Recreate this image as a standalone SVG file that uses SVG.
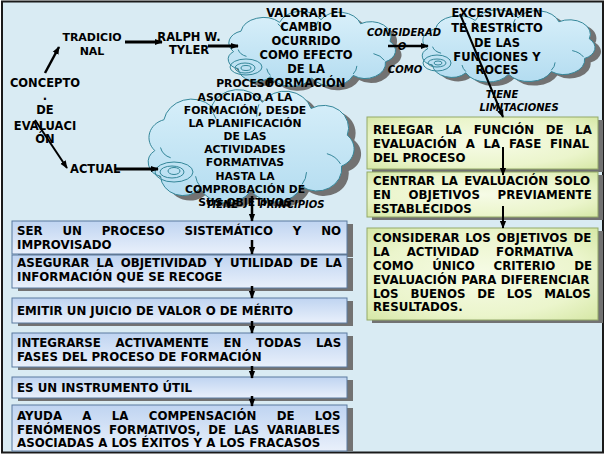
<svg xmlns="http://www.w3.org/2000/svg" width="608" height="455" viewBox="0 0 608 455">
<defs>
<style>
.t{font-family:'DejaVu Sans',Verdana,sans-serif;font-weight:bold;fill:#000}
.bx{font-size:11.8px}
.c{text-anchor:middle}
.it{font-style:italic;font-size:10px;text-anchor:middle}
.cn{stroke:#000;fill:none;marker-end:url(#ah)}
.cs{fill:none;stroke:#35879a;stroke-width:1}
.lb{fill:url(#gBlue);stroke:#5b7aa0;stroke-width:1}
.rb{fill:url(#gGreen);stroke:#93a968;stroke-width:1}
.sh{fill:#727272}
</style>
<linearGradient id="gBlue" x1="0" y1="0" x2="0" y2="1"><stop offset="0" stop-color="#bfd4f1"/><stop offset="1" stop-color="#e9f0fb"/></linearGradient>
<radialGradient id="gGreen" cx="0.5" cy="0.5" r="0.75"><stop offset="0" stop-color="#f6fbe6"/><stop offset="0.6" stop-color="#ebf5cc"/><stop offset="1" stop-color="#d2e59f"/></radialGradient>
<linearGradient id="gCloud" x1="0" y1="0" x2="0" y2="1"><stop offset="0" stop-color="#d9f0fa"/><stop offset="1" stop-color="#b3dcf0"/></linearGradient>
<path id="cloud" vector-effect="non-scaling-stroke" d="M20,55 A18,18 0 0 1 28,25 A25,25 0 0 1 70,12 A25,25 0 0 1 115,8 A24,24 0 0 1 158,14 A22,22 0 0 1 190,40 A18,18 0 0 1 185,70 A22,22 0 0 1 150,90 A26,26 0 0 1 105,94 A26,26 0 0 1 60,92 A20,20 0 0 1 25,80 A14,14 0 0 1 20,55 Z"/>
<path id="cloudIn" vector-effect="non-scaling-stroke" d="M25,52 A14,14 0 0 0 34,62 M60,90 A22,22 0 0 1 56,80 M150,88 A22,22 0 0 0 154,76 M184,68 A20,20 0 0 0 172,58 M112,10 A25,25 0 0 0 110,22 M68,14 A24,24 0 0 1 74,24"/>
<marker id="ah" viewBox="0 0 10 10" refX="9" refY="5" markerWidth="8" markerHeight="8" markerUnits="userSpaceOnUse" orient="auto"><path d="M0,1 L10,5 L0,9 z" fill="#000"/></marker>
</defs>

<rect x="0" y="0" width="608" height="455" fill="#ffffff"/>
<rect x="2" y="1.5" width="601" height="451" fill="#d9ebf3" stroke="#1a1a1a" stroke-width="2"/>

<!-- clouds -->
<g id="n-valorar">
<use href="#cloud" transform="translate(221.2,18.7) scale(0.92,0.68)" class="sh"/>
<use href="#cloud" transform="translate(215.2,14.2) scale(0.92,0.68)" fill="url(#gCloud)" stroke="#35879a"/>
<use href="#cloudIn" transform="translate(215.2,14.2) scale(0.92,0.68)" class="cs"/>
<ellipse cx="246" cy="67" rx="16" ry="8" class="cs"/>
<ellipse cx="245" cy="68" rx="10" ry="5" class="cs"/>
<ellipse cx="246" cy="68" rx="5" ry="2.5" class="cs"/>
<text class="t c" font-size="11.5" x="306"><tspan x="306" y="17">VALORAR EL</tspan><tspan x="306" y="31">CAMBIO</tspan><tspan x="306" y="45">OCURRIDO</tspan><tspan x="306" y="59">COMO EFECTO</tspan><tspan x="306" y="73">DE LA</tspan><tspan x="306" y="87">FORMACIÓN</tspan></text>
</g>

<g id="n-excesivamente">
<use href="#cloud" transform="translate(414.8,16.6) scale(0.95,0.655)" class="sh"/>
<use href="#cloud" transform="translate(408.8,12.6) scale(0.95,0.655)" fill="url(#gCloud)" stroke="#35879a"/>
<use href="#cloudIn" transform="translate(408.8,12.6) scale(0.95,0.655)" class="cs"/>
<ellipse cx="437" cy="63" rx="14" ry="8" class="cs"/>
<ellipse cx="437" cy="63" rx="9" ry="4" class="cs"/>
<ellipse cx="438" cy="63" rx="4" ry="2" class="cs"/>
<text class="t c" font-size="11.5"><tspan x="497" y="17">EXCESIVAMEN</tspan><tspan x="497" y="32">TE RESTRICTO</tspan><tspan x="497" y="47">DE LAS</tspan><tspan x="497" y="61">FUNCIONES Y</tspan><tspan x="497" y="74">ROCES</tspan></text>
</g>

<g id="n-proceso">
<use href="#cloud" transform="translate(139.2,99.1) scale(1.132,1.027)" class="sh"/>
<use href="#cloud" transform="translate(132.2,94.1) scale(1.132,1.027)" fill="url(#gCloud)" stroke="#35879a"/>
<use href="#cloudIn" transform="translate(132.2,94.1) scale(1.132,1.027)" class="cs"/>
<ellipse cx="174" cy="172" rx="19" ry="10" class="cs"/>
<ellipse cx="172" cy="172" rx="12" ry="6" class="cs"/>
<ellipse cx="174" cy="171" rx="6" ry="3.5" class="cs"/>
<text class="t c" font-size="10.8"><tspan x="245" y="87">PROCESO</tspan><tspan x="245" y="101">ASOCIADO A LA</tspan><tspan x="245" y="114">FORMACIÓN, DESDE</tspan><tspan x="245" y="127">LA PLANIFICACIÓN</tspan><tspan x="245" y="140">DE LAS</tspan><tspan x="245" y="153">ACTIVIDADES</tspan><tspan x="245" y="166">FORMATIVAS</tspan><tspan x="245" y="180">HASTA LA</tspan><tspan x="245" y="193">COMPROBACIÓN DE</tspan><tspan x="245" y="206">SUS OBJETIVOS</tspan></text>
</g>

<!-- plain label nodes -->
<g id="n-concepto"><text class="t c" font-size="11.5"><tspan x="45" y="87">CONCEPTO</tspan><tspan x="45" y="100">.</tspan><tspan x="45" y="114">DE</tspan><tspan x="45" y="130">EVALUACI</tspan><tspan x="45" y="143">ÓN</tspan></text></g>
<g id="n-tradicional"><text class="t c" font-size="11"><tspan x="92" y="41">TRADICIO</tspan><tspan x="92" y="55">NAL</tspan></text></g>
<g id="n-ralph"><text class="t c" font-size="11.5"><tspan x="189" y="41">RALPH W.</tspan><tspan x="189" y="54">TYLER</tspan></text></g>
<g id="n-actual"><text class="t" font-size="11.5" x="70" y="173">ACTUAL</text></g>

<!-- left boxes (principios) -->
<g id="n-p1"><rect x="18" y="224" width="335" height="33" class="sh"/><rect x="12" y="221" width="335" height="33" class="lb"/>
<text class="t bx"><tspan x="17" y="235" word-spacing="15.68">SER UN PROCESO SISTEMÁTICO Y NO</tspan><tspan x="17" y="249">IMPROVISADO</tspan></text></g>
<g id="n-p2"><rect x="18" y="258" width="335" height="33" class="sh"/><rect x="12" y="255" width="335" height="33" class="lb"/>
<text class="t bx"><tspan x="17" y="267" word-spacing="3.27">ASEGURAR LA OBJETIVIDAD Y UTILIDAD DE LA</tspan><tspan x="17" y="281">INFORMACIÓN QUE SE RECOGE</tspan></text></g>
<g id="n-p3"><rect x="18" y="301" width="335" height="25" class="sh"/><rect x="12" y="298" width="335" height="25" class="lb"/>
<text class="t bx" x="17" y="315">EMITIR UN JUICIO DE VALOR O DE MÉRITO</text></g>
<g id="n-p4"><rect x="18" y="336" width="335" height="34" class="sh"/><rect x="12" y="333" width="335" height="34" class="lb"/>
<text class="t bx"><tspan x="17" y="347" word-spacing="10.45">INTEGRARSE ACTIVAMENTE EN TODAS LAS</tspan><tspan x="17" y="361">FASES DEL PROCESO DE FORMACIÓN</tspan></text></g>
<g id="n-p5"><rect x="18" y="380" width="335" height="21" class="sh"/><rect x="12" y="377" width="335" height="21" class="lb"/>
<text class="t bx" x="17" y="392">ES UN INSTRUMENTO ÚTIL</text></g>
<g id="n-p6"><rect x="18" y="408" width="335" height="43" class="sh"/><rect x="12" y="405" width="335" height="46" class="lb"/>
<text class="t bx"><tspan x="17" y="420" word-spacing="16.2">AYUDA A LA COMPENSACIÓN DE LOS</tspan><tspan x="17" y="433.5" word-spacing="3.7">FENÓMENOS FORMATIVOS, DE LAS VARIABLES</tspan><tspan x="17" y="447">ASOCIADAS A LOS ÉXITOS Y A LOS FRACASOS</tspan></text></g>

<!-- right boxes (limitaciones) -->
<g id="n-l1"><rect x="372" y="120" width="231" height="52" class="sh"/><rect x="367" y="117" width="231" height="52" class="rb"/>
<text class="t bx"><tspan x="373" y="134" word-spacing="7.58">RELEGAR LA FUNCIÓN DE LA</tspan><tspan x="373" y="148" word-spacing="4.64">EVALUACIÓN A LA FASE FINAL</tspan><tspan x="373" y="162">DEL PROCESO</tspan></text></g>
<g id="n-l2"><rect x="372" y="175" width="231" height="45" class="sh"/><rect x="367" y="172" width="231" height="45" class="rb"/>
<text class="t bx"><tspan x="373" y="185" word-spacing="2.17">CENTRAR LA EVALUACIÓN SOLO</tspan><tspan x="373" y="199" word-spacing="13.5">EN OBJETIVOS PREVIAMENTE</tspan><tspan x="373" y="213">ESTABLECIDOS</tspan></text></g>
<g id="n-l3"><rect x="372" y="231" width="231" height="92" class="sh"/><rect x="367" y="228" width="231" height="92" class="rb"/>
<text class="t bx"><tspan x="373" y="242" word-spacing="1.53">CONSIDERAR LOS OBJETIVOS DE</tspan><tspan x="373" y="256" word-spacing="12.9">LA ACTIVIDAD FORMATIVA</tspan><tspan x="373" y="270" word-spacing="14.7">COMO ÚNICO CRITERIO DE</tspan><tspan x="373" y="284" word-spacing="0.35">EVALUACIÓN PARA DIFERENCIAR</tspan><tspan x="373" y="297.5" word-spacing="7.67">LOS BUENOS DE LOS MALOS</tspan><tspan x="373" y="311">RESULTADOS.</tspan></text></g>

<!-- connectors -->
<g id="connectors">
<path class="cn" stroke-width="2.5" d="M45,73 L59,47"/>
<path class="cn" stroke-width="2" d="M35,120 L67,168"/>
<path class="cn" stroke-width="3" d="M125,42 L162,42"/>
<path class="cn" stroke-width="3" d="M208,46 L238,46"/>
<path class="cn" stroke-width="3" d="M115,169 L158,169"/>
<path class="cn" stroke-width="2.5" d="M388,46 L428,46"/>
<path class="cn" stroke-width="2" d="M460,14 L503,117"/>
<path class="cn" stroke-width="2" d="M503,147 L503,175"/>
<path class="cn" stroke-width="2" d="M503,206 L503,228"/>
<path class="cn" stroke-width="2.5" d="M252,196 L252,221"/>
<path class="cn" stroke-width="2.5" d="M252,240 L252,254"/>
<path class="cn" stroke-width="2.5" d="M252,286 L252,298"/>
<path class="cn" stroke-width="2.5" d="M252,321 L252,333"/>
<path class="cn" stroke-width="2.5" d="M252,366 L252,378"/>
<path class="cn" stroke-width="2.5" d="M252,396 L252,406"/>
<g id="edge-labels">
<text class="t it"><tspan x="404" y="36">CONSIDERAD</tspan><tspan x="402" y="50">O</tspan></text>
<text class="t it" x="405" y="73">COMO</text>
<text class="t it"><tspan x="502" y="98">TIENE</tspan><tspan x="519" y="111">LIMITACIONES</tspan></text>
<text class="t it" x="222" y="208">TIENE</text>
<text class="t it" x="292" y="208">PRINCIPIOS</text>
</g>
</g>
</svg>
